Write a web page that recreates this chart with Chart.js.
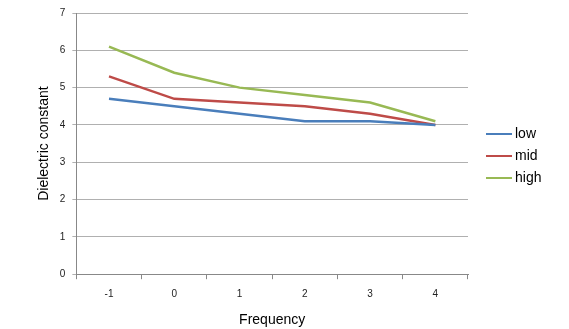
<!DOCTYPE html>
<html>
<head>
<meta charset="utf-8">
<script src="https://cdn.jsdelivr.net/npm/chart.js@4/dist/chart.umd.min.js"></script>
<style>
  html, body { margin: 0; padding: 0; background: #fff; }
  #wrap { width: 569px; height: 329px; }
</style>
</head>
<body>
<div id="wrap"><canvas id="myChart" width="569" height="329"></canvas></div>
<script>
const frequencies = ['-1', '0', '1', '2', '3', '4'];
const lowValues = [4.7, 4.5, 4.3, 4.1, 4.1, 4.0];
const midValues = [5.3, 4.7, 4.6, 4.5, 4.3, 4.0];
const highValues = [6.1, 5.4, 5.0, 4.8, 4.6, 4.1];
const seriesNames = ['low', 'mid', 'high'];
const seriesColors = ['#4a7ebb', '#be4b48', '#98b954'];

const font = "'Liberation Sans', Arial, sans-serif";

// legend on the right, drawn by hand so it sits where Excel puts it
const sideLegend = {
    id: 'sideLegend',
    afterDraw(chart) {
        const ctx = chart.ctx;
        ctx.save();
        ctx.font = '14px ' + font;
        ctx.textBaseline = 'middle';
        chart.data.datasets.forEach((ds, i) => {
            const y = 134 + i * 22;
            ctx.strokeStyle = ds.borderColor;
            ctx.lineWidth = 2;
            ctx.beginPath();
            ctx.moveTo(486, y);
            ctx.lineTo(512, y);
            ctx.stroke();
            ctx.fillStyle = '#000';
            ctx.fillText(ds.label, 515, y);
        });
        ctx.restore();
    }
};

const getDataset = (i, values) => ({
    label: seriesNames[i],
    data: values,
    borderColor: seriesColors[i],
    backgroundColor: seriesColors[i],
    borderWidth: 2.5,
    pointRadius: 0,
    tension: 0,
    fill: false
});

const config = {
    type: 'line',
    data: {
        labels: frequencies,
        datasets: [
            getDataset(0, lowValues),
            getDataset(1, midValues),
            getDataset(2, highValues)
        ]
    },
    options: {
        responsive: false,
        animation: false,
        layout: { padding: { left: 36, right: 101, top: 8, bottom: 0 } },
        plugins: {
            legend: { display: false },
            tooltip: { enabled: false }
        },
        scales: {
            x: {
                offset: true,
                grid: {
                    offset: true,
                    drawOnChartArea: false,
                    drawTicks: true,
                    tickLength: 5,
                    color: '#888'
                },
                border: { color: '#888', width: 1 },
                ticks: { color: '#222', font: { size: 10, family: font }, padding: 9 },
                title: {
                    display: true,
                    text: 'Frequency',
                    color: '#000',
                    font: { size: 14, family: font },
                    padding: { top: 3, bottom: 0 }
                }
            },
            y: {
                min: 0,
                max: 7,
                ticks: { stepSize: 1, color: '#222', font: { size: 10, family: font }, padding: 7 },
                grid: { color: '#b0b0b0', tickLength: 4, lineWidth: 1 },
                border: { color: '#888', width: 1 },
                title: {
                    display: true,
                    text: 'Dielectric constant',
                    color: '#000',
                    font: { size: 14, family: font },
                    padding: { top: 0, bottom: 0 }
                }
            }
        }
    },
    plugins: [sideLegend]
};

new Chart(document.getElementById('myChart'), config);
</script>
</body>
</html>
